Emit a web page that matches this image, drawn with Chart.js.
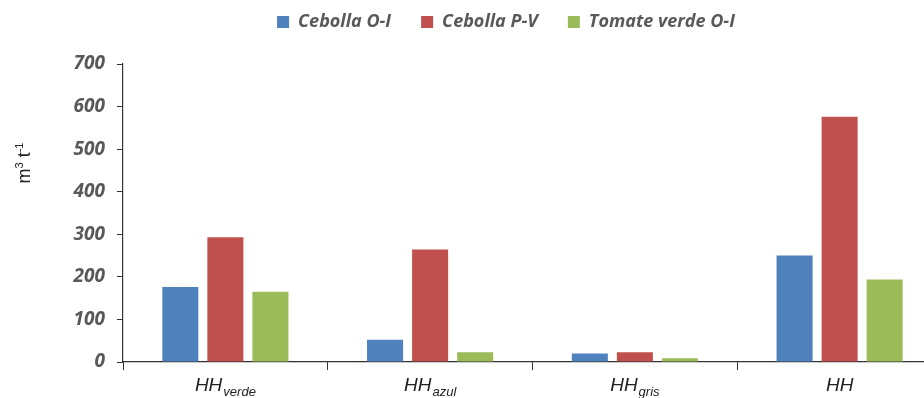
<!DOCTYPE html>
<html>
<head>
<meta charset="utf-8">
<script src="https://cdn.jsdelivr.net/npm/chart.js@4/dist/chart.umd.min.js"></script>
<style>
  html, body { margin: 0; padding: 0; background: #fff; overflow: hidden; }
  #wrap { width: 944px; height: 398px; }
</style>
</head>
<body>
<div id="wrap"><canvas id="waterChart"></canvas></div>
<script>
// categories: main label + subscript
const categories = ["HH", "HH", "HH", "HH"];
const subscripts = ["verde", "azul", "gris", ""];
const seriesNames = ["Cebolla O-I", "Cebolla P-V", "Tomate verde O-I"];
const cebollaOI = [176, 52, 20, 250];
const cebollaPV = [293, 264, 23, 576];
const tomateOI = [165, 23, 9, 194];
const yTicks = [0, 100, 200, 300, 400, 500, 600, 700];

const colors = ["#4F81BD", "#C0504D", "#9BBB59"];
const tickFont = "'Open Sans', sans-serif";
const labelFont = "'Liberation Sans Narrow', 'Liberation Sans', sans-serif";

// legend: wide item spacing but kept near the top
const legendTweak = {
  id: "legendTweak",
  beforeUpdate(chart) {
    const lg = chart.legend;
    if (lg && !lg._patched) {
      const fit = lg.fit;
      lg.fit = function () { fit.call(this); this.height += 6; };
      const draw = lg.draw;
      lg.draw = function () {
        this.ctx.save();
        this.ctx.translate(5, -17);
        draw.call(this);
        this.ctx.restore();
      };
      lg._patched = true;
    }
  }
};

// y title with superscripts, x labels with subscripts
const textPlugin = {
  id: "textPlugin",
  afterDraw(chart) {
    const ctx = chart.ctx;
    const x = chart.scales.x;
    ctx.save();
    ctx.fillStyle = "#222";
    ctx.textBaseline = "alphabetic";
    ctx.textAlign = "left";
    categories.forEach((c, i) => {
      const cx = x.getPixelForValue(i);
      ctx.font = "italic 19px " + labelFont;
      const w1 = ctx.measureText(c).width;
      ctx.font = "italic 13px " + labelFont;
      const w2 = subscripts[i] ? ctx.measureText(subscripts[i]).width + 1 : 0;
      const start = cx - (w1 + w2) / 2;
      ctx.font = "italic 19px " + labelFont;
      ctx.fillText(c, start, 391);
      if (subscripts[i]) {
        ctx.font = "italic 13px " + labelFont;
        ctx.fillText(subscripts[i], start + w1 + 1, 396);
      }
    });
    // y axis title
    ctx.translate(30, 163);
    ctx.rotate(-Math.PI / 2);
    const parts = [["m", 18, 0], ["3", 11, -7], [" t", 18, 0], ["-1", 11, -7]];
    let total = 0;
    parts.forEach(p => { ctx.font = p[1] + "px 'Liberation Sans', sans-serif"; total += ctx.measureText(p[0]).width; });
    let px = -total / 2;
    parts.forEach(p => {
      ctx.font = p[1] + "px 'Liberation Sans', sans-serif";
      ctx.fillText(p[0], px, p[2]);
      px += ctx.measureText(p[0]).width;
    });
    ctx.restore();
  }
};

const ctx = document.getElementById("waterChart").getContext("2d");
new Chart(ctx, {
  type: "bar",
  data: {
    labels: categories,
    datasets: [
      { label: seriesNames[0], data: cebollaOI, backgroundColor: colors[0] },
      { label: seriesNames[1], data: cebollaPV, backgroundColor: colors[1] },
      { label: seriesNames[2], data: tomateOI, backgroundColor: colors[2] },
    ],
  },
  options: {
    responsive: true,
    maintainAspectRatio: false,
    animation: false,
    datasets: { bar: { categoryPercentage: 0.66, barPercentage: 0.8 } },
    layout: { padding: { left: 60, right: 2, bottom: 28, top: 0 } },
    plugins: {
      tooltip: { enabled: false },
      legend: {
        display: true,
        position: "top",
        labels: {
          boxWidth: 12,
          boxHeight: 12,
          padding: 30,
          color: "#595959",
          font: { family: tickFont, size: 18, weight: "bold", style: "italic" },
        },
      },
    },
    scales: {
      x: {
        grid: { display: true, drawOnChartArea: false, tickLength: 8, color: "#333", offset: true },
        border: { color: "#333", width: 1.2 },
        ticks: { display: false },
      },
      y: {
        min: 0,
        max: 700,
        afterBuildTicks: (s) => { s.ticks = yTicks.map(v => ({ value: v })); },
        afterFit: (s) => { s.width = 63; },
        grid: { display: true, drawOnChartArea: false, tickLength: 6, color: "#333" },
        border: { color: "#333", width: 1.2 },
        ticks: {
          padding: 12,
          color: "#595959",
          font: { family: tickFont, size: 19, weight: "bold", style: "italic" },
        },
      },
    },
  },
  plugins: [legendTweak, textPlugin],
});
</script>
</body>
</html>
